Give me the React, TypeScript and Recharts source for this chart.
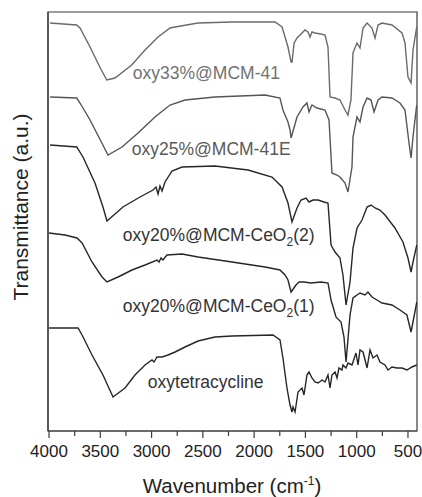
import { LineChart, Line, XAxis, YAxis, ReferenceArea, ReferenceDot } from "recharts";

// FTIR spectra, offset for clarity: [wavenumber (cm-1), transmittance (a.u.)]
const oxy33 = [
  [3990, 409], [3730, 407], [3698, 404], [3600, 385], [3500, 364], [3437, 352], [3357, 354],
  [3194, 367], [3064, 382], [2937, 395], [2820, 404], [2771, 405], [2547, 409], [2216, 410],
  [1796, 410], [1728, 405], [1690, 392], [1670, 385], [1640, 370], [1631, 370], [1610, 389],
  [1582, 394], [1533, 399], [1504, 402], [1475, 400], [1455, 395], [1436, 400], [1407, 399],
  [1350, 398], [1309, 397], [1280, 385], [1260, 335], [1211, 334], [1163, 332], [1114, 322],
  [1085, 317], [1056, 332], [1036, 379], [997, 389], [968, 384], [938, 404], [899, 409],
  [851, 404], [821, 394], [792, 407], [753, 409], [656, 407], [558, 399], [529, 389],
  [500, 355], [470, 349], [451, 382], [415, 405],
];

const oxy25 = [
  [3990, 335], [3730, 334], [3698, 329], [3600, 312], [3500, 292], [3425, 277], [3288, 285],
  [3132, 299], [2967, 315], [2820, 327], [2674, 332], [2382, 335], [1894, 337], [1748, 334],
  [1719, 322], [1670, 310], [1650, 302], [1640, 294], [1582, 315], [1524, 325], [1485, 329],
  [1465, 320], [1436, 327], [1387, 324], [1309, 322], [1270, 312], [1241, 259], [1192, 257],
  [1163, 255], [1114, 249], [1085, 240], [1046, 265], [1036, 295], [997, 315], [968, 310],
  [938, 325], [899, 334], [860, 332], [831, 320], [792, 332], [753, 335], [656, 334],
  [578, 329], [529, 322], [490, 289], [470, 274], [451, 295], [415, 327],
];

const oxy20b = [
  [3990, 287], [3730, 285], [3669, 275], [3552, 249], [3474, 225], [3435, 211], [3279, 225],
  [3113, 235], [2986, 242], [2957, 245], [2937, 238], [2918, 246], [2898, 241], [2869, 250],
  [2801, 261], [2703, 265], [2382, 266], [2060, 262], [1826, 255], [1728, 245], [1670, 229],
  [1631, 210], [1582, 224], [1543, 232], [1494, 234], [1465, 230], [1426, 232], [1377, 232],
  [1319, 230], [1280, 229], [1250, 187], [1211, 180], [1163, 174], [1134, 157], [1104, 127],
  [1065, 150], [1036, 184], [997, 204], [948, 212], [899, 225], [860, 227], [821, 224],
  [773, 222], [724, 217], [627, 204], [549, 190], [500, 174], [470, 160], [451, 170],
  [414, 187],
];

const oxy20a = [
  [4000, 199], [3844, 197], [3727, 194], [3678, 189], [3581, 170], [3483, 155], [3435, 150],
  [3327, 155], [3191, 162], [3064, 167], [2947, 172], [2927, 170], [2908, 174], [2889, 172],
  [2850, 177], [2703, 178], [2547, 175], [2216, 170], [1894, 165], [1748, 162], [1699, 157],
  [1670, 152], [1640, 140], [1592, 147], [1562, 150], [1514, 150], [1446, 149], [1348, 150],
  [1280, 149], [1250, 132], [1202, 115], [1153, 110], [1124, 95], [1104, 70], [1065, 117],
  [1036, 134], [997, 137], [968, 139], [919, 137], [890, 140], [851, 135], [802, 132],
  [753, 129], [656, 127], [578, 122], [510, 117], [470, 100], [451, 110], [414, 130],
];

const oxytc = [
  [4000, 104], [3717, 104], [3678, 97], [3581, 77], [3474, 57], [3376, 35], [3259, 44],
  [3162, 57], [3064, 67], [2996, 72], [2976, 70], [2947, 75], [2898, 75], [2840, 77],
  [2771, 80], [2674, 85], [2547, 91], [2382, 95], [2216, 96], [1816, 97], [1748, 92],
  [1719, 74], [1680, 44], [1650, 27], [1631, 20], [1621, 25], [1601, 20], [1572, 40],
  [1533, 44], [1514, 37], [1485, 57], [1465, 60], [1436, 54], [1407, 50], [1377, 49],
  [1338, 52], [1309, 50], [1280, 57], [1260, 44], [1241, 57], [1211, 60], [1192, 54],
  [1173, 64], [1144, 62], [1134, 67], [1104, 64], [1085, 69], [1046, 67], [1036, 70],
  [1007, 79], [987, 67], [968, 82], [938, 80], [899, 64], [870, 82], [841, 74], [802, 77],
  [773, 70], [724, 67], [695, 62], [656, 65], [607, 64], [558, 64], [510, 62], [461, 65],
  [414, 67],
];

const seriesNames = [
  "oxy33%@MCM-41",
  "oxy25%@MCM-41E",
  "oxy20%@MCM-CeO2(2)",
  "oxy20%@MCM-CeO2(1)",
  "oxytetracycline",
];
const seriesData = [oxy33, oxy25, oxy20b, oxy20a, oxytc];
const lineColors = ["#6a6a6a", "#555555", "#262626", "#262626", "#262626"];
const labelColors = ["#727272", "#5a5a5a", "#333333", "#333333", "#333333"];
// where each label's text starts (wavenumber, a.u. baseline)
const labelWn = [3183, 3193, 3280, 3280, 3037];
const labelT = [353, 277, 191, 120, 44];

const xTicks = [4000, 3750, 3500, 3250, 3000, 2750, 2500, 2250, 2000, 1750, 1500, 1250, 1000, 750, 500];
const yTicks = [95, 190, 285, 380];

const FONT = "'Liberation Sans', Arial, sans-serif";
const AXIS = "#3a3a3a";

function WaveTick({ x, y, payload }: any) {
  const v = payload.value as number;
  const major = v % 500 === 0;
  return (
    <g>
      <line x1={x} x2={x} y1={y} y2={y + (major ? 7 : 5)} stroke={AXIS} strokeWidth={1.2} />
      {major && (
        <text x={x} y={y + 26} textAnchor="middle" fontSize={17} fill="#222" fontFamily={FONT}>
          {v}
        </text>
      )}
    </g>
  );
}

function SeriesLabel({ cx, cy, name, color }: any) {
  const m = /^(.*CeO)2(.*)$/.exec(name);
  return (
    <text x={cx} y={cy} fontSize={17.5} fill={color} fontFamily={FONT}>
      {m ? (
        <>
          {m[1]}
          <tspan dy={5} fontSize={12}>2</tspan>
          <tspan dy={-5}>{m[2]}</tspan>
        </>
      ) : (
        name
      )}
    </text>
  );
}

export default function App() {
  const data = seriesData.map((s) => s.map(([wn, t]) => ({ wn, t })));

  return (
    <div style={{ position: "absolute", left: 0, top: 0, background: "#fff" }}>
      <LineChart width={422} height={497} margin={{ top: 12, right: 5, bottom: 0, left: 0 }}>
        <XAxis
          dataKey="wn"
          type="number"
          domain={[412, 4010]}
          reversed
          ticks={xTicks}
          interval={0}
          allowDataOverflow
          height={66}
          axisLine={{ stroke: AXIS, strokeWidth: 1.2 }}
          tickLine={false}
          tickSize={0}
          tickMargin={0}
          tick={<WaveTick />}
          label={() => (
            <text x={232} y={493} textAnchor="middle" fontSize={20.5} fill="#222" fontFamily={FONT}>
              Wavenumber (cm
              <tspan dy={-8} fontSize={12}>-1</tspan>
              <tspan dy={8}>)</tspan>
            </text>
          )}
        />
        <YAxis
          type="number"
          domain={[1, 420]}
          ticks={yTicks}
          allowDataOverflow
          width={48}
          tick={false}
          tickSize={3}
          tickLine={{ stroke: AXIS }}
          axisLine={{ stroke: AXIS, strokeWidth: 1.2 }}
          label={() => (
            <text
              x={28}
              y={207}
              transform="rotate(-90, 28, 207)"
              textAnchor="middle"
              fontSize={21}
              fill="#222"
              fontFamily={FONT}
            >
              Transmittance (a.u.)
            </text>
          )}
        />
        <ReferenceArea x1={412} x2={4010} y1={1} y2={420} fill="none" stroke={AXIS} strokeWidth={1.2} />
        {data.map((d, i) => (
          <Line
            key={seriesNames[i]}
            data={d}
            dataKey="t"
            type="linear"
            stroke={lineColors[i]}
            strokeWidth={1.4}
            dot={false}
            isAnimationActive={false}
          />
        ))}
        {seriesNames.map((name, i) => (
          <ReferenceDot
            key={"lbl" + i}
            x={labelWn[i]}
            y={labelT[i]}
            r={0}
            shape={(p: any) => <SeriesLabel cx={p.cx} cy={p.cy} name={name} color={labelColors[i]} />}
          />
        ))}
      </LineChart>
    </div>
  );
}
